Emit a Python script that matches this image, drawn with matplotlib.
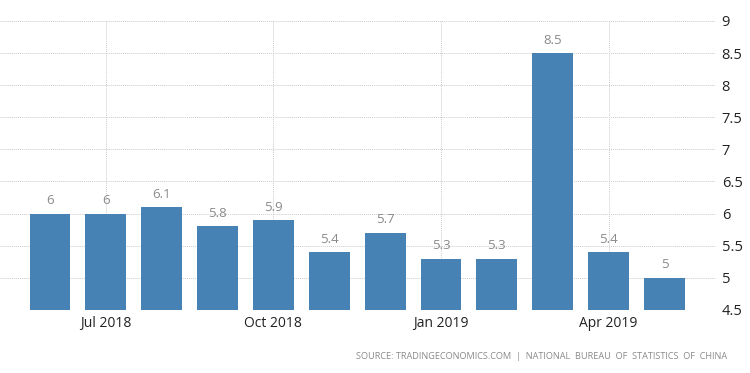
import matplotlib.pyplot as plt

months = ["Jun 2018", "Jul 2018", "Aug 2018", "Sep 2018", "Oct 2018", "Nov 2018",
          "Dec 2018", "Jan 2019", "Feb 2019", "Mar 2019", "Apr 2019", "May 2019"]
values = [6, 6, 6.1, 5.8, 5.9, 5.4, 5.7, 5.3, 5.3, 8.5, 5.4, 5]
value_labels = ["6", "6", "6.1", "5.8", "5.9", "5.4", "5.7", "5.3", "5.3", "8.5", "5.4", "5"]
shown_months = ["Jul 2018", "Oct 2018", "Jan 2019", "Apr 2019"]
y_ticks = [4.5, 5, 5.5, 6, 6.5, 7, 7.5, 8, 8.5, 9]
y_tick_labels = ["4.5", "5", "5.5", "6", "6.5", "7", "7.5", "8", "8.5", "9"]
source = "SOURCE: TRADINGECONOMICS.COM  |  NATIONAL  BUREAU  OF  STATISTICS  OF  CHINA"

plt.rcParams['font.family'] = ['Open Sans', 'DejaVu Sans']

fig = plt.figure(figsize=(7.5, 3.73), dpi=100)
ax = fig.add_axes([0.0, 0.169, 0.953, 0.775])

x = list(range(len(values)))
ax.bar(x, values, width=0.73, bottom=0, color='#4682b4', zorder=3)
for xi, v, lab in zip(x, values, value_labels):
    ax.text(xi, v + 0.1, lab, ha='center', va='bottom', fontsize=9.5, color='#8a8a8a')

ax.set_ylim(4.5, 9)
ax.set_xlim(-0.894, 11.9)
ax.yaxis.tick_right()
ax.set_yticks(y_ticks)
ax.set_yticklabels(y_tick_labels, fontsize=10.5, color='#222222')
ax.set_xticks([months.index(m) for m in shown_months])
ax.set_xticklabels(shown_months, fontsize=10, color='#222222')
ax.tick_params(axis='both', length=0, pad=4)
ax.tick_params(axis='y', pad=5)

ax.grid(True, axis='both', linestyle=(0, (1, 1)), color='#cccccc', linewidth=0.7, zorder=0)
for s in ax.spines.values():
    s.set_visible(False)

fig.text(0.969, 0.045, source, ha='right', va='center', fontsize=6.6, color='#8a8a8a')

fig.savefig('out.png', dpi=100)
